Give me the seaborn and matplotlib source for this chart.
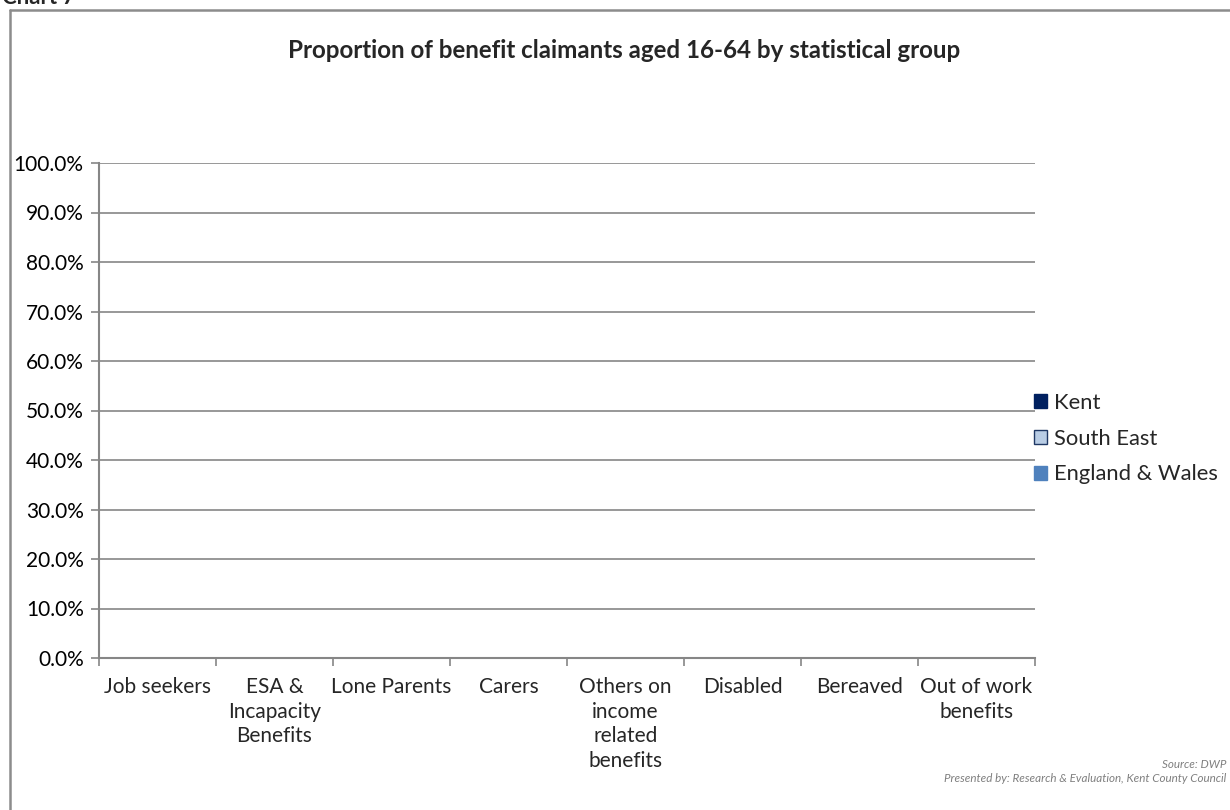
import matplotlib
matplotlib.use("Agg")
import matplotlib.pyplot as plt
from matplotlib.lines import Line2D
from matplotlib.patches import Patch
import seaborn as sns
import pandas as pd
import numpy as np

categories = ["Job seekers", "ESA &\nIncapacity\nBenefits", "Lone Parents", "Carers",
              "Others on\nincome\nrelated\nbenefits", "Disabled", "Bereaved",
              "Out of work\nbenefits"]
regions = ["Kent", "South East", "England & Wales"]
kent = [0.0, 0.0, 0.0, 0.0, 0.0, 0.0, 0.0, 0.0]
south_east = [0.0, 0.0, 0.0, 0.0, 0.0, 0.0, 0.0, 0.0]
england_wales = [0.0, 0.0, 0.0, 0.0, 0.0, 0.0, 0.0, 0.0]
y_ticks = [0.0, 0.1, 0.2, 0.3, 0.4, 0.5, 0.6, 0.7, 0.8, 0.9, 1.0]

colors = {"Kent": "#002060", "South East": "#B9CDE5", "England & Wales": "#4F81BD"}
edges = {"Kent": "#002060", "South East": "#1F3864", "England & Wales": "#4F81BD"}

df = pd.DataFrame({
    "category": categories * 3,
    "region": [r for r in regions for _ in categories],
    "value": kent + south_east + england_wales,
})

sns.set_style("white")
plt.rcParams["font.family"] = ["Lato", "DejaVu Sans"]

fig = plt.figure(figsize=(12.3, 8.1), dpi=100)
W, H = 1230, 810
ax = fig.add_axes([99 / W, 1 - 658 / H, (1035 - 99) / W, (658 - 163) / H])

sns.barplot(data=df, x="category", y="value", hue="region", palette=colors,
            ax=ax, legend=False, width=0.75)

grid_c = "#868686"
ax.set_xlim(-0.5, len(categories) - 0.5)
ax.set_ylim(0, 1.0)
ax.set_yticks(y_ticks)
ax.set_yticklabels([f"{v * 100:.1f}%" for v in y_ticks], fontsize=15, color="black")
ax.yaxis.grid(True, color=grid_c, linewidth=1.2)
ax.set_axisbelow(True)
ax.tick_params(axis="y", length=6, width=1.2, color=grid_c, pad=5, left=True)

ax.set_xticks(range(len(categories)))
ax.set_xticklabels(categories, fontsize=15, linespacing=1.28, va="top")
ax.tick_params(axis="x", length=0, pad=14)
ax.set_xticks(np.arange(-0.5, len(categories), 1.0), minor=True)
ax.tick_params(axis="x", which="minor", length=6, width=1.2, color=grid_c, bottom=True)

for s in ["top", "right"]:
    ax.spines[s].set_visible(False)
for s in ["left", "bottom"]:
    ax.spines[s].set_color(grid_c)
    ax.spines[s].set_linewidth(1.5)
ax.set_xlabel("")
ax.set_ylabel("")

fig.text(624 / W, 1 - 50 / H, "Proportion of benefit claimants aged 16-64 by statistical group",
         ha="center", va="center", fontsize=17.4, fontweight="bold")

handles = [Patch(facecolor=colors[r], edgecolor=edges[r], linewidth=1.0) for r in regions]
fig.legend(handles, regions, loc="upper left", bbox_to_anchor=(1025 / W, 1 - 384 / H),
           frameon=False, fontsize=15.8, handlelength=0.6, handleheight=0.6,
           handletextpad=0.3, labelspacing=0.72, borderaxespad=0)

fig.text(2 / W, 1 - 4 / H, "Chart 7", ha="left", va="baseline", fontsize=16,
         fontweight="bold")

frame_c = "#8C8C8C"
fig.add_artist(Line2D([9.5 / W, 9.5 / W], [0, 1 - 9.5 / H], color=frame_c, linewidth=1.8))
fig.add_artist(Line2D([9.5 / W, 1], [1 - 9.5 / H, 1 - 9.5 / H], color=frame_c, linewidth=1.8))

fig.text(1226 / W, 1 - 764 / H, "Source: DWP", ha="right", va="center", fontsize=8.4,
         style="italic", color="#7F7F7F")
fig.text(1226 / W, 1 - 779 / H, "Presented by: Research & Evaluation, Kent County Council",
         ha="right", va="center", fontsize=8.4, style="italic", color="#7F7F7F")

fig.savefig("out.png", dpi=100)
